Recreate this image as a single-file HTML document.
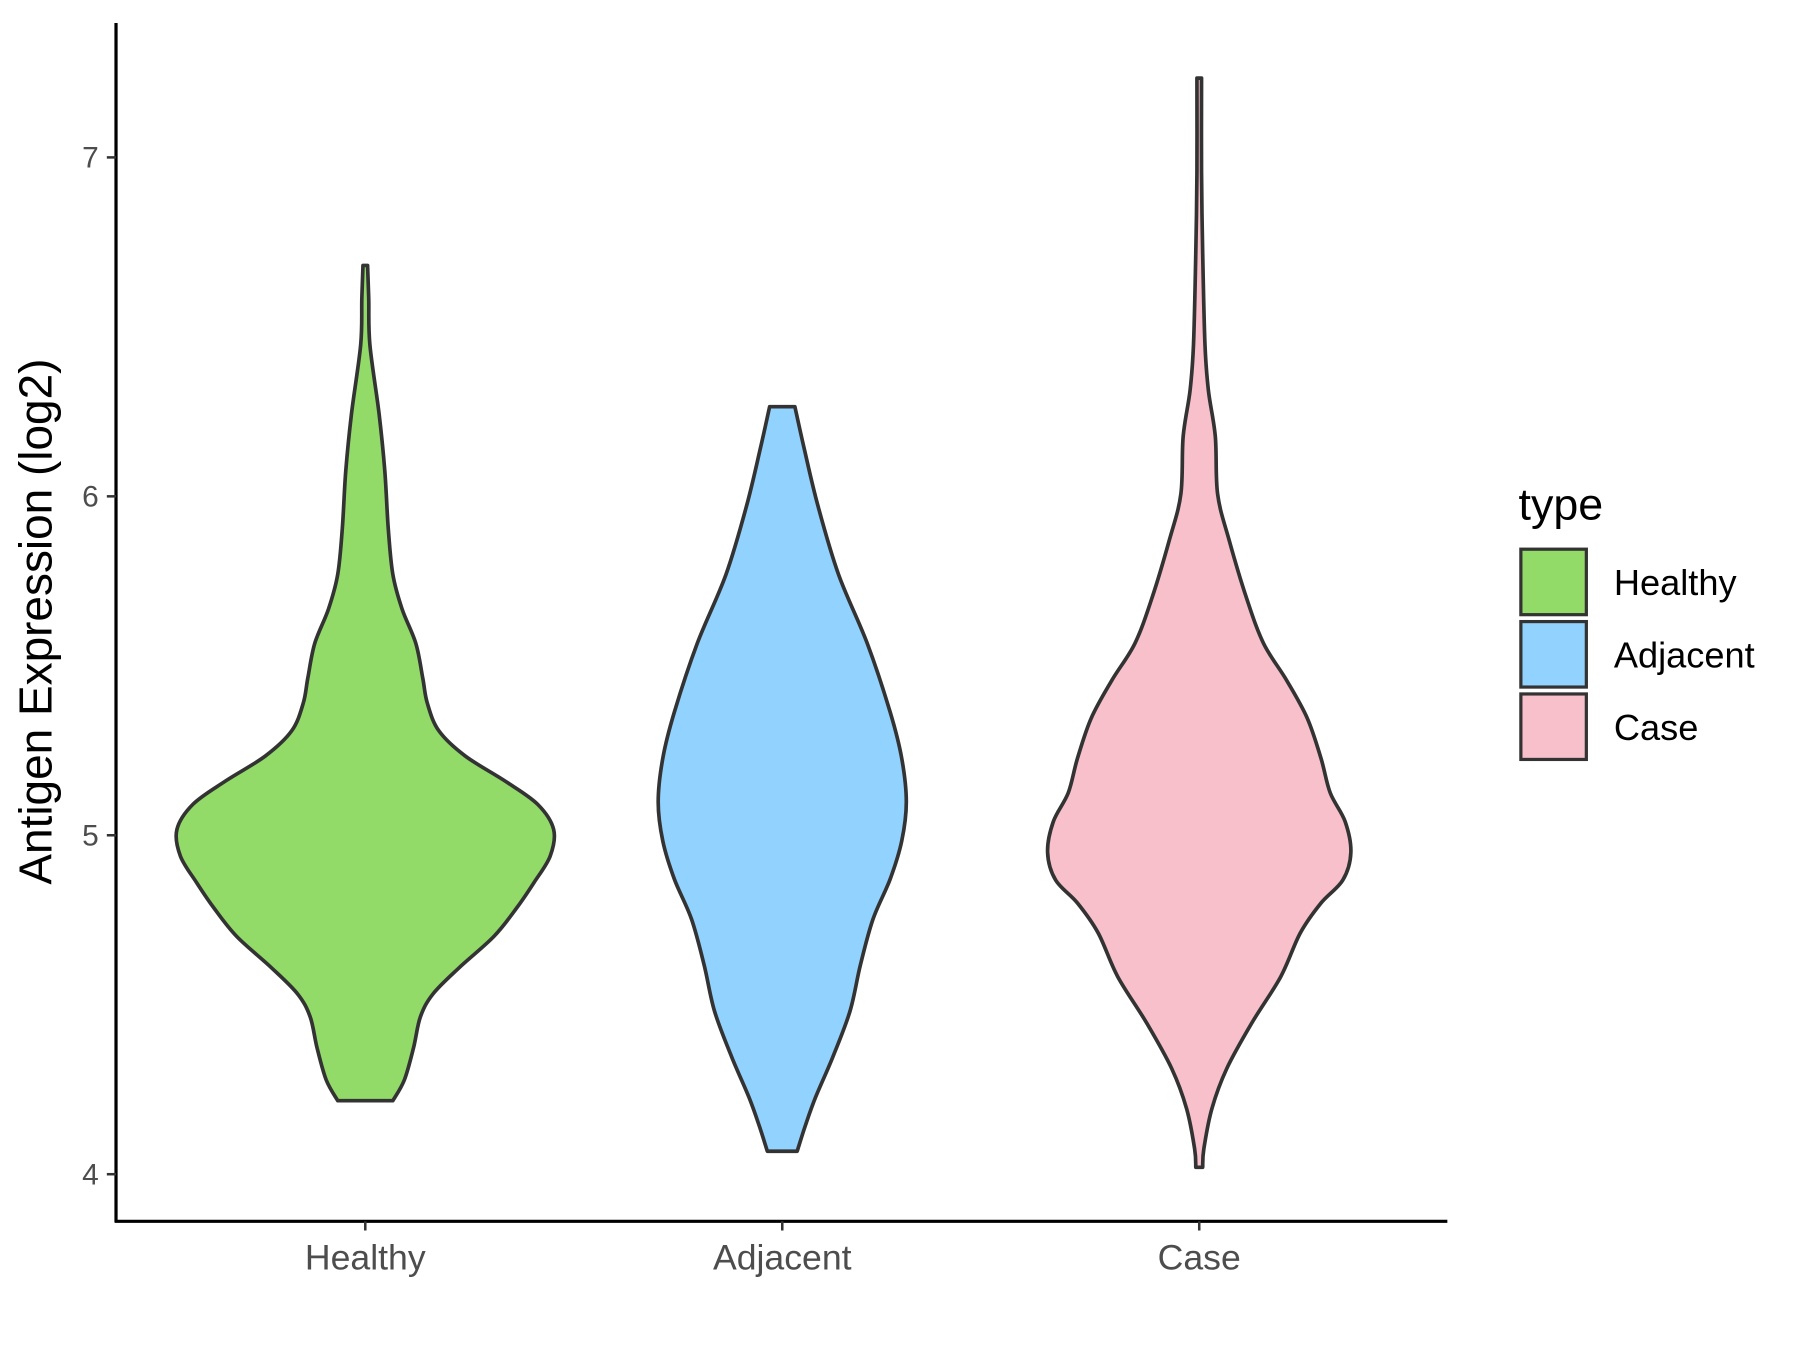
<!DOCTYPE html>
<html><head><meta charset="utf-8"><style>
html,body{margin:0;padding:0;background:#fff;}
svg{display:block;}
text{font-family:"Liberation Sans",Arial,sans-serif;}
</style></head><body>
<svg id="s" width="1800" height="1350" viewBox="0 0 1567 1175" preserveAspectRatio="none" xmlns="http://www.w3.org/2000/svg">
<rect width="1567" height="1175" fill="#fff"/>
<g id="v"></g>
<line x1="101" y1="20" x2="101" y2="1064" stroke="#000" stroke-width="2.8"/>
<line x1="100" y1="1063" x2="1260" y2="1063" stroke="#000" stroke-width="2.8"/>
<g stroke="#333" stroke-width="2.2">
<line x1="93" y1="137" x2="101" y2="137"/><line x1="93" y1="432" x2="101" y2="432"/>
<line x1="93" y1="727" x2="101" y2="727"/><line x1="93" y1="1022" x2="101" y2="1022"/>
<line x1="318" y1="1063" x2="318" y2="1071"/><line x1="681" y1="1063" x2="681" y2="1071"/><line x1="1044" y1="1063" x2="1044" y2="1071"/>
</g>
<g fill="#4d4d4d" font-size="26" text-anchor="end">
<text x="86" y="146">7</text><text x="86" y="441">6</text><text x="86" y="736">5</text><text x="86" y="1031">4</text>
</g>
<g fill="#4d4d4d" font-size="31" text-anchor="middle">
<text x="318" y="1105">Healthy</text><text x="681" y="1105">Adjacent</text><text x="1044" y="1105">Case</text>
</g>
<text transform="translate(45,541) rotate(-90)" font-size="40" text-anchor="middle" fill="#000">Antigen Expression (log2)</text>
<text x="1322" y="452" font-size="39" fill="#000">type</text>
<g stroke="#333" stroke-width="2.8">
<rect x="1324" y="478" width="57" height="57" fill="#93DB69"/>
<rect x="1324" y="541" width="57" height="57" fill="#92D2FE"/>
<rect x="1324" y="604" width="57" height="57" fill="#F7C0CB"/>
</g>
<g font-size="31.5" fill="#000">
<text x="1405" y="518">Healthy</text><text x="1405" y="581">Adjacent</text><text x="1405" y="644">Case</text>
</g>
</svg>
<script>
function smooth(p){let d="M"+p[0][0]+","+p[0][1];for(let i=0;i<p.length-1;i++){const a=p[Math.max(i-1,0)],b=p[i],c=p[i+1],e=p[Math.min(i+2,p.length-1)];const c1=[b[0]+(c[0]-a[0])/6,b[1]+(c[1]-a[1])/6],c2=[c[0]-(e[0]-b[0])/6,c[1]-(e[1]-b[1])/6];d+=" C"+c1+" "+c2+" "+c;}return d;}
function violin(cx,pts,fill){const r=pts;const l=pts.slice().reverse().map(q=>[2*cx-q[0],q[1]]);
let d=smooth(r)+" L"+l[0]+" "+smooth(l).slice(1)+" Z";
const p=document.createElementNS("http://www.w3.org/2000/svg","path");p.setAttribute("d",d);p.setAttribute("fill",fill);p.setAttribute("stroke","#333");p.setAttribute("stroke-width","3.2");p.setAttribute("stroke-linejoin","round");document.getElementById("v").appendChild(p);}
violin(318,[[320,231],[321,260],[322,300],[330,360],[335,410],[338,460],[342,500],[350,530],[362,560],[368,590],[372,612],[382,636],[405,658],[440,680],[468,700],[482,722],[479,745],[465,768],[450,790],[430,815],[400,842],[377,865],[366,885],[360,912],[352,940],[342,958]],"#93DB69");
violin(681,[[692,354],[700,390],[712,440],[730,500],[755,560],[775,620],[785,660],[789,698],[785,732],[775,765],[760,800],[749,840],[740,880],[725,920],[710,955],[701,980],[694,1002]],"#92D2FE");
violin(1044,[[1046,68],[1046,150],[1047,220],[1049,300],[1052,340],[1058,380],[1060,430],[1070,470],[1085,520],[1100,560],[1120,592],[1138,625],[1150,660],[1158,690],[1171,715],[1176,742],[1169,766],[1150,786],[1132,812],[1115,850],[1090,890],[1068,930],[1055,965],[1048,1000],[1047,1016]],"#F7C0CB");
</script>
</body></html>
